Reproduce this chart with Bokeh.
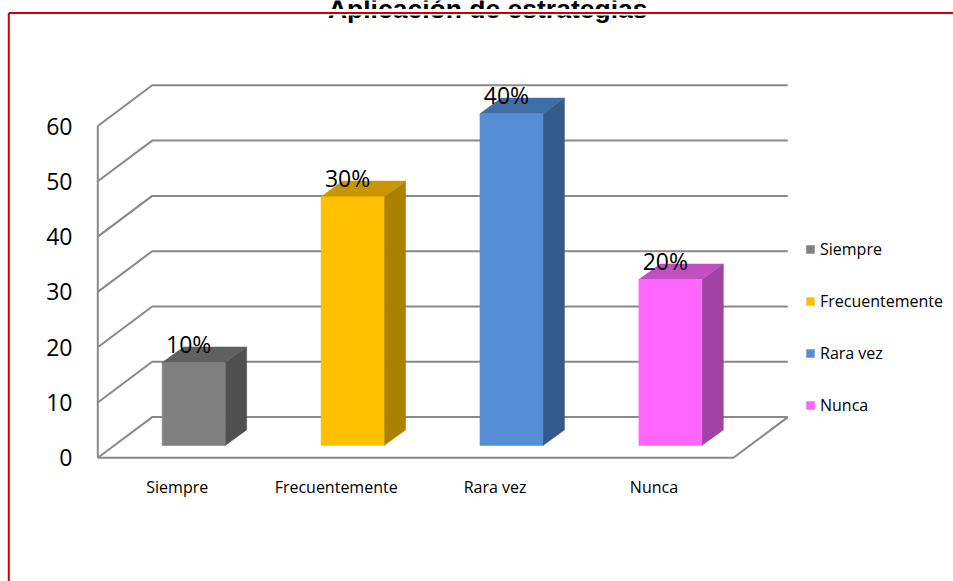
from bokeh.plotting import figure
from bokeh.models import Range1d, ColumnDataSource, Legend, LegendItem
from bokeh.core.properties import value
from bokeh.embed import file_html
from bokeh.resources import INLINE

# ---------------- data ----------------
title_text = "Aplicación de estrategias"
categories = ["Siempre", "Frecuentemente", "Rara vez", "Nunca"]
values = [15, 45, 60, 30]
percent_labels = ["10%", "30%", "40%", "20%"]
y_ticks = [0, 10, 20, 30, 40, 50, 60]
front_colors = ["#808080", "#FFC000", "#558ED5", "#FF66FF"]
top_colors = ["#606060", "#C89600", "#3F6DA6", "#C04FC0"]
side_colors = ["#505050", "#AA8200", "#345A8A", "#A142A5"]

# ---------------- layout constants (pixels) ----------------
W, H = 953, 581
PX_CAT = 158.9      # pixels per category along the front floor edge
PX_UNIT = 5.53      # pixels per value unit
ORIGIN_X = 97.3     # x of the front-left corner of the floor
ORIGIN_Y = 457.3    # y of the front-left corner of the floor


def sx(px):
    return (px - ORIGIN_X) / PX_CAT


def sy(py):
    return (ORIGIN_Y - py) / PX_UNIT


DX = 54.4 / PX_CAT          # wall depth (x)
DY = 40.7 / PX_UNIT         # wall depth (y)
BAR_W = 63.0 / PX_CAT
FRONT_DX = 16.4 / PX_CAT
FRONT_DY = 12.3 / PX_UNIT
BAR_DX = 21.5 / PX_CAT
BAR_DY = 15.6 / PX_UNIT

n = len(categories)
ymax = max(y_ticks)

p = figure(width=W, height=H, output_backend="svg", toolbar_location=None,
           x_range=Range1d(sx(0), sx(W)), y_range=Range1d(sy(H), sy(0)),
           x_axis_type=None, y_axis_type=None, min_border=0,
           outline_line_color=None, background_fill_color="white",
           border_fill_color="white")

GRID = "#898989"

# back wall gridlines + left wall diagonals
gxs, gys = [], []
for t in y_ticks:
    gxs.append([0, DX, n + DX])
    gys.append([t, t + DY, t + DY])
p.multi_line(gxs, gys, line_color=GRID, line_width=2)
# front vertical axis line
p.line([0, 0], [0, ymax], line_color=GRID, line_width=2)
# floor front and right edges
p.line([0, n, n + DX], [0, 0, DY], line_color=GRID, line_width=2)

# bars
centers = [i + 0.5 + FRONT_DX for i in range(n)]
lefts = [c - BAR_W / 2 for c in centers]
rights = [c + BAR_W / 2 for c in centers]
bottoms = [FRONT_DY] * n
tops = [v + FRONT_DY for v in values]

top_xs, top_ys, side_xs, side_ys = [], [], [], []
for l, r, b, t in zip(lefts, rights, bottoms, tops):
    top_xs.append([l, r, r + BAR_DX, l + BAR_DX])
    top_ys.append([t, t, t + BAR_DY, t + BAR_DY])
    side_xs.append([r, r + BAR_DX, r + BAR_DX, r])
    side_ys.append([b, b + BAR_DY, t + BAR_DY, t])

p.patches(side_xs, side_ys, fill_color=side_colors, line_color=side_colors, line_width=0.5)
p.patches(top_xs, top_ys, fill_color=top_colors, line_color=top_colors, line_width=0.5)
front_src = ColumnDataSource(dict(left=lefts, right=rights, bottom=bottoms, top=tops,
                                  color=front_colors, cat=categories))
front_r = p.quad(left="left", right="right", bottom="bottom", top="top",
                 fill_color="color", line_color="color", line_width=0.5, source=front_src)

# data labels
p.text(x=[c - 5 / PX_CAT for c in centers], y=[t + 18.7 / PX_UNIT for t in tops],
       text=percent_labels, text_align="center", text_baseline="alphabetic",
       text_font=value("Open Sans"), text_font_size="23px", text_color="#000000")

# y tick labels
p.text(x=[-25.3 / PX_CAT] * len(y_ticks), y=y_ticks, text=[str(t) for t in y_ticks],
       text_align="right", text_baseline="middle",
       text_font=value("Open Sans"), text_font_size="23px", text_color="#000000")

# category labels
p.text(x=[i + 0.5 for i in range(n)], y=[-29.4 / PX_UNIT] * n, text=categories,
       text_align="center", text_baseline="alphabetic",
       text_font=value("Open Sans"), text_font_size="16px", text_color="#000000")

# title (cut at the top edge, as in the original)
p.text(x=[sx(487.2)], y=[sy(8.3)], text=[title_text], text_align="center",
       text_baseline="alphabetic", text_font=value("Liberation Sans"),
       text_font_style="bold", text_font_size="26.5px", text_color="#000000")
# the original title box is clipped just below its baseline
p.quad(left=[sx(300)], right=[sx(680)], bottom=[sy(15)], top=[sy(8.6)],
       fill_color="white", line_color=None)

# red frame lines
p.line([sx(8.3), sx(W)], [sy(12.5), sy(12.5)], line_color="#CC0000", line_width=2)
p.line([sx(8.3), sx(8.3)], [sy(12.5), sy(H)], line_color="#CC0000", line_width=2)

# legend
L = 22
legend = Legend(items=[LegendItem(label=c, renderers=[front_r], index=i)
                       for i, c in enumerate(categories)],
                location=(805, 165), orientation="vertical",
                glyph_width=10, glyph_height=10, label_height=L, spacing=30,
                label_standoff=5, padding=0, margin=0,
                background_fill_alpha=0, border_line_color=None,
                label_text_font="Open Sans", label_text_font_size="16px",
                label_text_color="#000000")
p.add_layout(legend)

open("out.html", "w").write(file_html(p, INLINE))
